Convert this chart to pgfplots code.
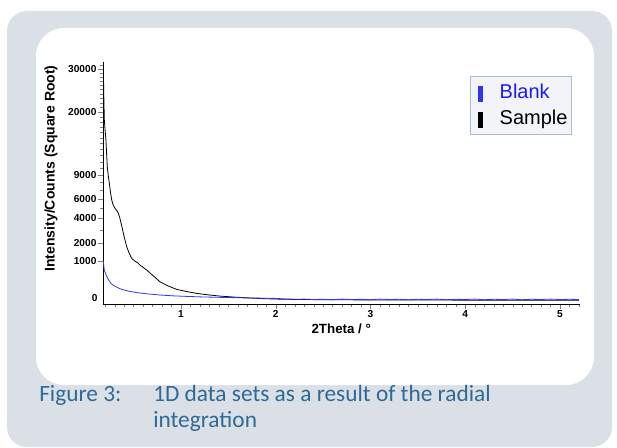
\documentclass[border=0pt]{standalone}
\usepackage{fontspec}
\setmainfont{Liberation Sans}
\newfontfamily\capfont{Carlito}
\usepackage{pgfplots}
\pgfplotsset{compat=1.18}
\usepackage{pgfplotstable}

\definecolor{panelgrey}{HTML}{DAE0E6}
\definecolor{captionblue}{HTML}{2F6A97}
\definecolor{blankblue}{HTML}{3333F5}
\definecolor{legendblue}{HTML}{1A1AFF}
\definecolor{legendfill}{HTML}{F2F4F7}
\definecolor{legendedge}{HTML}{A9BCD0}

% intensities (counts), plotted on a square-root axis
\pgfplotstableread{
x y
0.180 31500
0.185 24000
0.191 18400
0.200 16200
0.208 14600
0.215 12300
0.222 10240
0.233 8900
0.244 7900
0.256 6800
0.269 5870
0.285 5300
0.304 4970
0.322 4750
0.339 4470
0.352 4100
0.364 3680
0.378 3200
0.392 2710
0.410 2200
0.427 1780
0.452 1420
0.480 1130
0.510 1010
0.543 924
0.568 820
0.600 730
0.638 625
0.680 500
0.718 403
0.778 268
0.860 180
0.955 116
1.060 84
1.166 61
1.280 46
1.410 34
1.580 25
1.750 19
1.900 15
2.100 12
2.500 10
3.000 9
3.500 9
4.000 8
4.500 8
5.000 8
5.200 8
}\sampledata

\pgfplotstableread{
x y
0.180 1000
0.185 800
0.191 625
0.205 500
0.219 400
0.240 300
0.261 231
0.285 190
0.314 161
0.355 128
0.402 105
0.470 84
0.543 69
0.650 55
0.790 43
0.920 36
1.070 31
1.230 27
1.410 24
1.700 20
2.000 17
2.100 14
2.200 12
2.300 13
2.400 11
2.500 12
2.600 10
2.700 13
2.800 11
2.900 12
3.000 10
3.100 13
3.200 11
3.300 12
3.400 10
3.500 12
3.600 11
3.700 13
3.800 10
3.900 12
4.000 11
4.100 13
4.200 10
4.300 12
4.400 11
4.500 13
4.600 10
4.700 12
4.800 11
4.900 13
5.000 11
5.100 12
5.200 11
}\blankdata

\begin{document}
\begin{tikzpicture}[x=0.75pt,y=0.75pt]
  \fill[white] (0,0) rectangle (617,447);
  \fill[panelgrey, rounded corners=15pt] (7,0) rectangle (612,436);
  \fill[white, rounded corners=21pt] (36,62) rectangle (594,419);

  \begin{axis}[
    at={(77.25pt,107.25pt)}, anchor=south west,
    scale only axis, width=357.4pt, height=181.5pt,
    xmin=0.177, xmax=5.206, ymin=0, ymax=178.3,
    axis lines=left,
    axis line style={-, line width=0.4pt},
    tick align=outside,
    major tick length=3.75pt, minor tick length=2pt,
    xtick={1,2,3,4,5}, xticklabels={1,2,3,4,5},
    minor xtick={0.2,0.3,...,5.2},
    ytick={31.623,44.721,63.246,77.460,94.868,141.421,173.205},
    yticklabels={1000,2000,4000,6000,9000,20000,30000},
    minor ytick={54.772,70.711,83.666,89.443,100,104.881,109.545,114.018,118.322,122.474,126.491,130.384,134.164,137.840,144.914,148.324,151.658,154.919,158.114,161.245,164.317,167.332,170.294,176.068},
    extra y ticks={0}, extra y tick labels={0},
    extra y tick style={major tick length=0pt, yticklabel style={yshift=4.5pt, xshift=-3pt}},
    tick label style={font=\fontsize{7.6}{8}\selectfont\bfseries, inner sep=1pt},
    xlabel={2Theta / °},
    ylabel={Intensity/Counts (Square Root)},
    xlabel style={font=\fontsize{10}{12}\selectfont\bfseries, at={(axis description cs:0.5,-0.103)}, anchor=center},
    ylabel style={font=\fontsize{10.5}{12}\selectfont\bfseries, at={(axis description cs:-0.109,0.56)}, anchor=center},
    reverse legend,
    legend style={at={(0.984,0.942)}, anchor=north east,
      fill=legendfill, draw=legendedge, line width=0.6pt,
      font=\fontsize{15}{18}\selectfont,
      inner xsep=1pt, inner ysep=4pt, row sep=3pt,
      nodes={inner sep=2pt}},
    legend cell align=left,
    legend image code/.code={\path[draw=none, fill=none] (0pt,0pt) -- (19pt,0pt); \fill[#1, draw=none] (5pt,-7pt) rectangle (8.2pt,5pt);},
  ]
    \addplot[black, line width=0.6pt] table[x=x, y expr=sqrt(\thisrow{y})] {\sampledata};
    \addlegendentry{Sample}
    \addplot[blankblue, line width=0.6pt] table[x=x, y expr=sqrt(\thisrow{y})] {\blankdata};
    \addlegendentry{\textcolor{legendblue}{Blank}}
  \end{axis}

  \begin{scope}[every node/.style={anchor=base west, inner sep=0, text=captionblue, font=\capfont\fontsize{17.5}{21}\selectfont}]
    \node at (39,46) {Figure 3:};
    \node at (153,46) {1D data sets as a result of the radial};
    \node at (153,20) {integration};
  \end{scope}
\end{tikzpicture}
\end{document}
